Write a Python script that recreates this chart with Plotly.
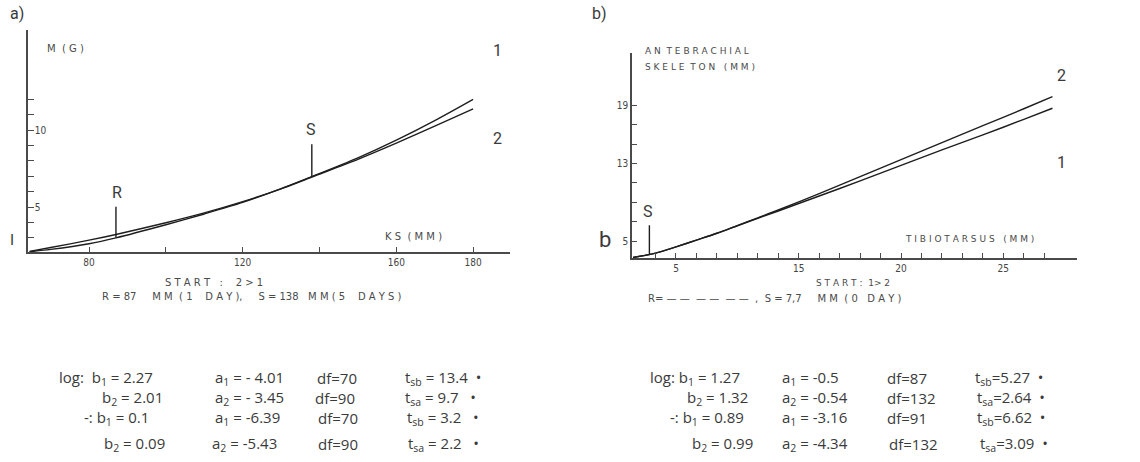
import plotly.graph_objects as go

W, H = 1140, 462

# ---------------- Panel a data ----------------
ks_mm = [64.5, 70, 80, 87, 100, 110, 120, 130, 138, 150, 160, 170, 180]
mass_1 = [2.1, 2.25, 2.62, 3.0, 3.85, 4.55, 5.3, 6.2, 6.98, 8.2, 9.35, 10.62, 12.0]
mass_2 = [2.12, 2.37, 2.85, 3.22, 3.98, 4.62, 5.35, 6.18, 6.95, 8.1, 9.15, 10.25, 11.38]
a_xticks = [80, 120, 160, 180]
a_xticktext = ["80", "120", "160", "180"]
a_xminor = [100, 140]
a_yticks = [5, 10]
a_yticktext = ["5", "10"]
a_yminor = [3, 4, 6, 7, 8, 9, 11, 12]
R_a, S_a = 87, 138

# ---------------- Panel b data ----------------
tibio_mm = [6.9, 8, 9, 10, 11, 12, 13, 14, 16, 18, 20, 22, 24, 26, 27.4]
skel_2 = [3.3, 3.75, 4.4, 5.1, 5.8, 6.6, 7.4, 8.2, 9.9, 11.65, 13.4, 15.15, 16.9, 18.65, 19.9]
skel_1 = [3.3, 3.75, 4.4, 5.1, 5.8, 6.58, 7.35, 8.1, 9.65, 11.2, 12.8, 14.4, 15.95, 17.55, 18.7]
b_xticks = [9, 15, 20, 25]
b_xticktext = ["5", "15", "20", "25"]
b_xminor = [8, 10, 11, 12, 13, 14, 16, 17, 18, 19, 21, 22, 23, 24, 26, 27]
b_yticks = [5, 13, 19]
b_yticktext = ["5", "13", "19"]
b_yminor = [7, 9, 11, 15, 17]
S_b = 7.7

LINE = "#1e1e1e"
AX = "#4a4a4a"
TXT = "#3a3a3a"
TICKFONT = dict(family="DejaVu Sans Condensed, DejaVu Sans", size=10, color="#444")


def interp(xs, ys, x):
    for i in range(len(xs) - 1):
        if xs[i] <= x <= xs[i + 1]:
            t = (x - xs[i]) / (xs[i + 1] - xs[i])
            return ys[i] + t * (ys[i + 1] - ys[i])
    return ys[-1]


fig = go.Figure()

curve_line = dict(color=LINE, width=1.4, shape="spline", smoothing=0.8)

# panel a curves
fig.add_trace(go.Scatter(x=ks_mm, y=mass_1, mode="lines", line=curve_line, xaxis="x", yaxis="y"))
fig.add_trace(go.Scatter(x=ks_mm, y=mass_2, mode="lines", line=curve_line, xaxis="x", yaxis="y"))
# R and S marks (panel a)
rv = max(interp(ks_mm, mass_1, R_a), interp(ks_mm, mass_2, R_a))
sv = interp(ks_mm, mass_1, S_a)
fig.add_trace(go.Scatter(x=[R_a, R_a], y=[rv - 0.2, rv + 1.8], mode="lines", line=dict(color=LINE, width=1.4),
                         xaxis="x", yaxis="y"))
fig.add_trace(go.Scatter(x=[S_a, S_a], y=[sv, sv + 2.1], mode="lines", line=dict(color=LINE, width=1.4),
                         xaxis="x", yaxis="y"))

# panel b curves
fig.add_trace(go.Scatter(x=tibio_mm, y=skel_1, mode="lines", line=curve_line, xaxis="x2", yaxis="y2"))
fig.add_trace(go.Scatter(x=tibio_mm, y=skel_2, mode="lines", line=curve_line, xaxis="x2", yaxis="y2"))
sbv = interp(tibio_mm, skel_1, S_b)
fig.add_trace(go.Scatter(x=[S_b, S_b], y=[sbv, sbv + 3.0], mode="lines", line=dict(color=LINE, width=1.4),
                         xaxis="x2", yaxis="y2"))

axis_common = dict(showgrid=False, zeroline=False, showline=True, linecolor=AX, linewidth=1.6,
                   ticks="inside", tickcolor=AX, tickwidth=1.2, tickfont=TICKFONT, fixedrange=True,
                   tickmode="array")


def minor(vals, ln):
    return dict(tickmode="array", tickvals=vals, ticks="inside", ticklen=ln, tickcolor=AX, tickwidth=1.2,
                showgrid=False)


fig.update_layout(
    width=W, height=H, margin=dict(l=0, r=0, t=0, b=0),
    paper_bgcolor="white", plot_bgcolor="white", showlegend=False,
    xaxis=dict(domain=[28 / W, 510 / W], range=[64.1, 189.6], anchor="y",
               tickvals=a_xticks, ticktext=a_xticktext, ticklen=5, minor=minor(a_xminor, 5), **axis_common),
    yaxis=dict(domain=[1 - 252 / H, 1 - 30 / H], range=[2.08, 16.5], anchor="x",
               tickvals=a_yticks, ticktext=a_yticktext, ticklen=6, ticklabelposition="inside",
               minor=minor(a_yminor, 6), **axis_common),
    xaxis2=dict(domain=[632 / W, 1077 / W], range=[6.85, 28.6], anchor="y2",
                tickvals=b_xticks, ticktext=b_xticktext, ticklen=5, minor=minor(b_xminor, 5), **axis_common),
    yaxis2=dict(domain=[1 - 258 / H, 1 - 53 / H], range=[3.25, 24.4], anchor="x2",
                tickvals=b_yticks, ticktext=b_yticktext, ticklen=5, minor=minor(b_yminor, 5), **axis_common),
)


def ann(x, y, text, size=13, anchor="left", family="Roboto, Liberation Sans", color=TXT):
    fig.add_annotation(x=x / W, y=1 - y / H, xref="paper", yref="paper", text=text, showarrow=False,
                       xanchor=anchor, yanchor="middle", font=dict(size=size, family=family, color=color))


SMALL = "DejaVu Sans, Liberation Sans"
SC = "#4a4a4a"

# panel labels
ann(8, 14, "a)", 16, family="Roboto")
ann(590, 14, "b)", 16, family="Roboto")

# panel a texts
ann(45, 48, "M  ( G )", 10, family=SMALL, color=SC)
ann(383, 236, "K S  ( M M )", 10, family=SMALL, color=SC)
ann(497, 50, "1", 16, anchor="center")
ann(497, 138, "2", 16, anchor="center")
ann(12, 240, "I", 15, anchor="center")
ann(117, 192, "R", 16, anchor="center")
ann(311, 129, "S", 16, anchor="center")
ann(163, 282, "S T A R T   :    2 > 1", 10, family=SMALL, color=SC)
ann(100, 296, "R = 87     M M  ( 1    D A Y ),     S = 138   M M ( 5    D A Y S )", 10, family=SMALL, color=SC)

# panel b texts
ann(643, 51, "A N  T E B R A C H I A L", 9, family=SMALL, color=SC)
ann(643, 67, "S K E L E  T O N   ( M M )", 9, family=SMALL, color=SC)
ann(903, 239, "T I B I O T A R S U S   ( M M )", 9, family=SMALL, color=SC)
ann(1061, 75, "2", 16, anchor="center")
ann(1061, 162, "1", 16, anchor="center")
ann(605, 240, "b", 22, anchor="center")
ann(648, 211, "S", 16, anchor="center")
ann(814, 283, "S T A R T :  1> 2", 9, family=SMALL, color=SC)
ann(646, 298, "R= — —  — —  — —  ,  S = 7,7     M M  ( 0   D A Y )", 10, family=SMALL, color=SC)

# statistics tables
TS = 15
TF = "Open Sans, Roboto"
rows_y = [378, 398, 418, 444]
a_col1 = ["log:  b<sub>1</sub> = 2.27", "b<sub>2</sub> = 2.01", "-: b<sub>1</sub> = 0.1", "b<sub>2</sub> = 0.09"]
a_col1_x = [57, 100, 82, 102]
a_col2 = ["a<sub>1</sub> = - 4.01", "a<sub>2</sub> = - 3.45", "a<sub>1</sub> = -6.39", "a<sub>2</sub> = -5.43"]
a_col2_x = [213, 213, 213, 210]
a_col3 = ["df=70", "df=90", "df=70", "df=90"]
a_col3_x = [315, 313, 316, 316]
a_col4 = ["t<sub>sb</sub> = 13.4  •", "t<sub>sa</sub> = 9.7   •", "t<sub>sb</sub> = 3.2   •", "t<sub>sa</sub> = 2.2   •"]
a_col4_x = [403, 403, 405, 406]

b_col1 = ["log: b<sub>1</sub> = 1.27", "b<sub>2</sub> = 1.32", "-: b<sub>1</sub> = 0.89", "b<sub>2</sub> = 0.99"]
b_col1_x = [648, 685, 668, 690]
b_col2 = ["a<sub>1</sub> = -0.5", "a<sub>2</sub> = -0.54", "a<sub>1</sub> = -3.16", "a<sub>2</sub> = -4.34"]
b_col2_x = [780, 780, 780, 780]
b_col3 = ["df=87", "df=132", "df=91", "df=132"]
b_col3_x = [885, 885, 885, 887]
b_col4 = ["t<sub>sb</sub>=5.27  •", "t<sub>sa</sub>=2.64  •", "t<sub>sb</sub>=6.62  •", "t<sub>sa</sub>=3.09  •"]
b_col4_x = [973, 975, 975, 978]

for texts, xs in [(a_col1, a_col1_x), (a_col2, a_col2_x), (a_col3, a_col3_x), (a_col4, a_col4_x),
                  (b_col1, b_col1_x), (b_col2, b_col2_x), (b_col3, b_col3_x), (b_col4, b_col4_x)]:
    for t, x, y in zip(texts, xs, rows_y):
        ann(x, y, t, TS, family=TF)

fig.write_html("out.html")
